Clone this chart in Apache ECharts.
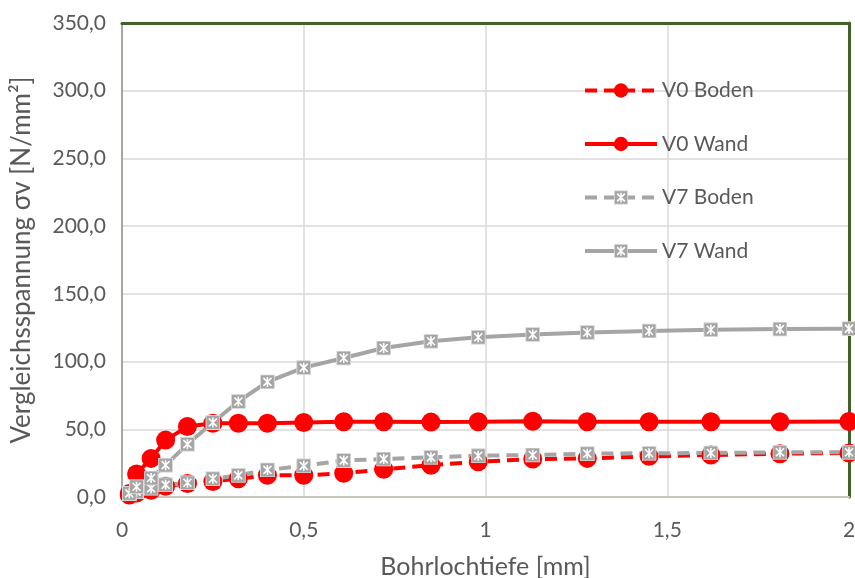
<!DOCTYPE html>
<html>
<head>
<meta charset="utf-8">
<script src="https://cdn.jsdelivr.net/npm/echarts@6/dist/echarts.min.js"></script>
<style>html,body{margin:0;padding:0;background:#fff}#c{width:855px;height:578px}</style>
</head>
<body>
<div id="c"></div>
<script>
var depth = [0.02, 0.04, 0.08, 0.12, 0.18, 0.25, 0.32, 0.40, 0.50, 0.61, 0.72, 0.85, 0.98, 1.13, 1.28, 1.45, 1.62, 1.81, 2.0];
var v0Boden = [1.5, 3, 5, 8, 10, 11.5, 13.5, 16, 16, 17.5, 20.5, 23.5, 26, 28, 28.5, 30, 31, 32, 32.5];
var v0Wand = [2.5, 17, 28.5, 42, 52, 54.5, 54.5, 54.5, 55, 55.5, 55.5, 55.3, 55.5, 56, 55.5, 55.5, 55.5, 55.5, 55.7];
var v7Boden = [2.5, 4, 6.5, 9, 10.5, 13.5, 16, 20, 23, 27, 28, 29.3, 30.5, 31, 32, 32.3, 32.5, 33, 33];
var v7Wand = [2.7, 7.6, 14, 23.5, 39, 55, 70.5, 85, 95.5, 102.6, 110, 115, 118, 120, 121.5, 122.6, 123.5, 124, 124.3];
var seriesNames = ['V0 Boden', 'V0 Wand', 'V7 Boden', 'V7 Wand'];

function pairs(ys) { return depth.map(function (x, i) { return [x, ys[i]]; }); }

var RED = '#FF0000', GRAY = '#A5A5A5', TXT = '#595959';
var svg = "<svg xmlns='http://www.w3.org/2000/svg' width='30' height='30'><rect x='1' y='1' width='28' height='28' fill='#A5A5A5' stroke='#DDDDDD' stroke-width='2'/><path d='M7 7L23 23M23 7L7 23M15 5V25' stroke='#FFFFFF' stroke-width='3.2'/></svg>";
var xSym = 'image://data:image/svg+xml;charset=utf-8,' + encodeURIComponent(svg);

var FONT = 'Lato';
var chart = echarts.init(document.getElementById('c'), null, { renderer: 'canvas' });
chart.setOption({
  animation: false,
  textStyle: { fontFamily: FONT },
  grid: { left: 122, right: 6, top: 23, bottom: 81, containLabel: false, outerBoundsMode: 'none' },
  legend: {
    orient: 'vertical', left: 578, top: 75,
    itemWidth: 72, itemHeight: 18, itemGap: 32.5,
    lineStyle: { width: 4 },
    textStyle: { color: TXT, fontSize: 21, fontFamily: FONT },
    data: seriesNames
  },
  xAxis: [{
    type: 'value', min: 0, max: 2, interval: 0.5,
    name: 'Bohrlochtiefe [mm]', nameLocation: 'middle', nameGap: 57,
    nameTextStyle: { color: TXT, fontSize: 25, fontFamily: FONT },
    axisLine: { show: true, lineStyle: { color: '#C3CCBC', width: 2 } },
    axisTick: { show: false },
    axisLabel: { color: TXT, fontSize: 21, margin: 23, formatter: function (v) { return String(v).replace('.', ','); } },
    splitLine: { show: true, lineStyle: { color: '#D9D9D9', width: 1.5 } }
  }, {
    type: 'value', min: 0, max: 2, position: 'top',
    axisLine: { show: true, onZero: false, lineStyle: { color: '#41612B', width: 3 } },
    axisTick: { show: false }, axisLabel: { show: false }, splitLine: { show: false }
  }],
  yAxis: [{
    type: 'value', min: 0, max: 350, interval: 50,
    name: 'Vergleichsspannung σv [N/mm²]', nameLocation: 'middle', nameGap: 87,
    nameTextStyle: { color: TXT, fontSize: 26, fontFamily: FONT },
    axisLine: { show: true, lineStyle: { color: '#A3AAA0', width: 2 } },
    axisTick: { show: false },
    axisLabel: { color: TXT, fontSize: 21, margin: 16, formatter: function (v) { return v.toFixed(1).replace('.', ','); } },
    splitLine: { show: true, lineStyle: { color: '#D9D9D9', width: 1.5 } }
  }, {
    type: 'value', min: 0, max: 350, position: 'right',
    axisLine: { show: true, onZero: false, lineStyle: { color: '#41612B', width: 3 } },
    axisTick: { show: false }, axisLabel: { show: false }, splitLine: { show: false }
  }],
  series: [
    { name: seriesNames[0], type: 'line', data: pairs(v0Boden), symbol: 'circle', symbolSize: 19,
      itemStyle: { color: RED }, lineStyle: { color: RED, width: 4, type: [12, 7] } },
    { name: seriesNames[1], type: 'line', data: pairs(v0Wand), symbol: 'circle', symbolSize: 19,
      itemStyle: { color: RED }, lineStyle: { color: RED, width: 4 } },
    { name: seriesNames[2], type: 'line', data: pairs(v7Boden), symbol: xSym, symbolSize: 15,
      itemStyle: { color: GRAY }, lineStyle: { color: GRAY, width: 4, type: [12, 7] } },
    { name: seriesNames[3], type: 'line', data: pairs(v7Wand), symbol: xSym, symbolSize: 15,
      itemStyle: { color: GRAY }, lineStyle: { color: GRAY, width: 4 } }
  ]
});
</script>
</body>
</html>
